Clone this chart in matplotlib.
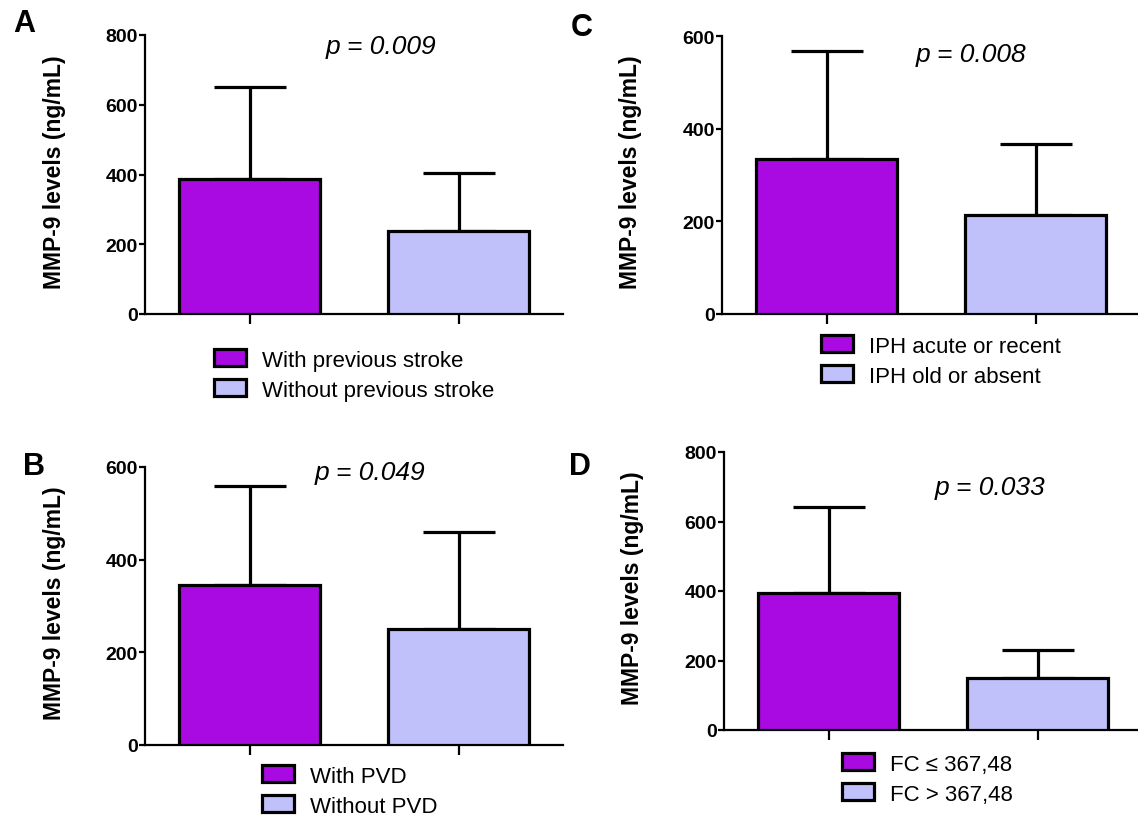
import matplotlib
matplotlib.use("Agg")
import matplotlib.pyplot as plt
from matplotlib.patches import Patch

plt.rcParams['font.family'] = ['Liberation Sans', 'DejaVu Sans']

# data (means and upper SD)
labels_a = ['With previous stroke', 'Without previous stroke']
means_a = [387, 238]
sd_a = [264, 166]

labels_b = ['With PVD', 'Without PVD']
means_b = [346, 250]
sd_b = [213, 210]

labels_c = ['IPH acute or recent', 'IPH old or absent']
means_c = [334, 213]
sd_c = [234, 153]

labels_d = ['FC \u2264 367,48', 'FC > 367,48']
means_d = [394, 151]
sd_d = [247, 79]

colors = ['#A90AE1', '#C0C0FA']
W, H = 1138, 820


def px(x, y):
    # pixel position -> figure fraction
    return x / W, 1 - y / H


def panel(rect, means, sd, labels, ymax, ystep, ptext, ppos, letter, lpos,
          ylab_pos, leg_pos):
    l, t, r, b = rect
    ax = fig.add_axes([l / W, 1 - b / H, (r - l) / W, (b - t) / H])
    x = [0, 1]
    ax.bar(x, means, width=0.675, color=colors, edgecolor='black',
           linewidth=2.3, zorder=3)
    ax.errorbar(x, means, yerr=[[0, 0], sd], fmt='none', ecolor='black',
                elinewidth=2.3, capsize=26, capthick=2.3, zorder=2)
    ax.set_xlim(-0.5, 1.5)
    ax.set_ylim(0, ymax)
    ax.set_yticks(range(0, ymax + 1, ystep))
    ax.set_xticks(x)
    ax.set_xticklabels([])
    for s in ['top', 'right']:
        ax.spines[s].set_visible(False)
    for s in ['left', 'bottom']:
        ax.spines[s].set_linewidth(1.6)
    ax.tick_params(axis='y', length=4, width=1.6, pad=1, labelsize=14)
    ax.tick_params(axis='x', length=7, width=1.6)
    for t_ in ax.get_yticklabels():
        t_.set_fontweight('bold')
    fig.text(*px(*ylab_pos), 'MMP-9 levels (ng/mL)', rotation=90,
             ha='center', va='center', fontsize=16.5, fontweight='bold')
    fig.text(*px(*ppos), ptext, ha='center', va='center', fontsize=19,
             style='italic')
    fig.text(*px(*lpos), letter, ha='center', va='center', fontsize=22,
             fontweight='bold')
    handles = [Patch(facecolor=c, edgecolor='black', linewidth=2.3)
               for c in colors]
    fig.legend(handles, labels, loc='center left',
               bbox_to_anchor=px(*leg_pos), frameon=False, fontsize=16,
               handlelength=1.45, handleheight=0.8, handletextpad=0.7,
               labelspacing=0.4, borderpad=0, borderaxespad=0)
    return ax


fig = plt.figure(figsize=(W / 100, H / 100), dpi=100)

panel((145, 36, 563, 315), means_a, sd_a, labels_a, 800, 200,
      'p = 0.009', (381, 47), 'A', (24, 24), (54, 172), (214, 376))
panel((722, 37, 1140, 315), means_c, sd_c, labels_c, 600, 200,
      'p = 0.008', (971, 55), 'C', (582, 28), (630, 172), (821, 362))
panel((145, 468, 563, 746), means_b, sd_b, labels_b, 600, 200,
      'p = 0.049', (370, 473), 'B', (34, 467), (54, 603), (262, 792))
panel((724, 453, 1142, 731), means_d, sd_d, labels_d, 800, 200,
      'p = 0.033', (990, 488), 'D', (580, 467), (632, 588), (842, 780))

fig.savefig('out.png', dpi=100)
